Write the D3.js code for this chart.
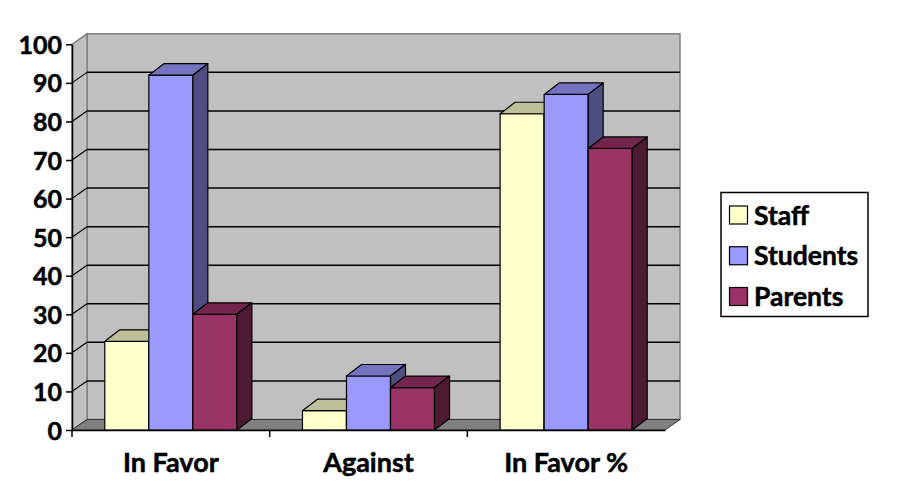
<!DOCTYPE html>
<html>
<head>
<meta charset="utf-8">
<script src="https://cdn.jsdelivr.net/npm/d3@7"></script>
<style>
  html, body { margin: 0; padding: 0; background: #fff; }
  svg { display: block; }
  text { font-family: Lato, "Open Sans", sans-serif; font-weight: bold; fill: #000; stroke: #000; stroke-width: 0.5px; }
</style>
</head>
<body>
<svg id="chart" width="898" height="500"></svg>
<script>
// ---- data ----
const categories = ["In Favor", "Against", "In Favor %"];
const seriesNames = ["Staff", "Students", "Parents"];
const staffValues = [23, 5, 82];
const studentValues = [92, 14, 87];
const parentValues = [30, 11, 73];
const yTickValues = [0, 10, 20, 30, 40, 50, 60, 70, 80, 90, 100];
const seriesColors = ["#FFFFCC", "#9999FF", "#993366"];

const seriesValues = [staffValues, studentValues, parentValues];

// ---- layout ----
const svg = d3.select("#chart");
const plotLeft = 72, plotRight = 665, plotBottom = 430, plotTop = 44.3;
const wdx = 15, wdy = -10.5;   // wall depth offset
const bdx = 15, bdy = -11.5;   // bar depth offset

const y = d3.scaleLinear().domain([0, 100]).range([plotBottom, plotTop]);
const x = d3.scaleBand().domain(categories).range([plotLeft, plotRight]).paddingInner(0).paddingOuter(0);
const xs = d3.scaleBand().domain(seriesNames).range([0, x.bandwidth()]).paddingInner(0).paddingOuter(0.745);

const shade = (c, k) => { const r = d3.rgb(c); return d3.rgb(r.r * k, r.g * k, r.b * k).formatHex(); };
const pts = arr => arr.map(p => p.join(",")).join(" ");

// back wall
svg.append("rect")
  .attr("x", plotLeft + wdx).attr("y", y(100) + wdy)
  .attr("width", plotRight - plotLeft).attr("height", y(0) - y(100))
  .attr("fill", "#C0C0C0").attr("stroke", "#808080").attr("stroke-width", 1.5);

// side wall
svg.append("polygon")
  .attr("points", pts([[plotLeft, y(0)], [plotLeft, y(100)], [plotLeft + wdx, y(100) + wdy], [plotLeft + wdx, y(0) + wdy]]))
  .attr("fill", "#C0C0C0").attr("stroke", "#808080").attr("stroke-width", 1.5);

// gridlines
const grid = svg.append("g");
yTickValues.filter(v => v > 0 && v < 100).forEach(v => {
  grid.append("line")
    .attr("x1", plotLeft + wdx).attr("x2", plotRight + wdx)
    .attr("y1", y(v) + wdy).attr("y2", y(v) + wdy)
    .attr("stroke", "#000").attr("stroke-width", 1.5);
  grid.append("line")
    .attr("x1", plotLeft).attr("x2", plotLeft + wdx)
    .attr("y1", y(v)).attr("y2", y(v) + wdy)
    .attr("stroke", "#000").attr("stroke-width", 1.2);
});

// floor
svg.append("polygon")
  .attr("points", pts([[plotLeft, y(0)], [plotRight, y(0)], [plotRight + wdx, y(0) + wdy], [plotLeft + wdx, y(0) + wdy]]))
  .attr("fill", "#808080").attr("stroke", "#303030").attr("stroke-width", 1);

// bars
const bars = svg.append("g");
categories.forEach((cat, ci) => {
  seriesNames.forEach((s, si) => {
    const v = seriesValues[si][ci];
    const x0 = x(cat) + xs(s), w = xs.bandwidth();
    const t = y(v), b = y(0);
    const col = seriesColors[si];
    const g = bars.append("g").attr("stroke", "#000").attr("stroke-width", 1.2).attr("stroke-linejoin", "round");
    g.append("rect").attr("x", x0).attr("y", t).attr("width", w).attr("height", b - t).attr("fill", col);
    g.append("polygon")
      .attr("points", pts([[x0, t], [x0 + w, t], [x0 + w + bdx, t + bdy], [x0 + bdx, t + bdy]]))
      .attr("fill", shade(col, 0.75));
    g.append("polygon")
      .attr("points", pts([[x0 + w, t], [x0 + w + bdx, t + bdy], [x0 + w + bdx, b + bdy], [x0 + w, b]]))
      .attr("fill", shade(col, 0.5));
  });
});

// y axis
const yAxis = svg.append("g").attr("transform", `translate(${plotLeft},0)`)
  .call(d3.axisLeft(y).tickValues(yTickValues).tickSize(6).tickPadding(4).tickSizeOuter(0));
yAxis.select(".domain").attr("stroke", "#000").attr("stroke-width", 1.5);
yAxis.selectAll(".tick line").attr("stroke", "#000").attr("stroke-width", 1.5);
yAxis.selectAll(".tick text").attr("font-size", 25).attr("font-family", "Lato").attr("font-weight", "bold").attr("dy", "0.36em");

// x axis
const xAxis = svg.append("g").attr("transform", `translate(0,${plotBottom})`)
  .call(d3.axisBottom(x).tickSize(0).tickPadding(0).tickSizeOuter(0));
xAxis.select(".domain").attr("stroke", "#000").attr("stroke-width", 1.5);
xAxis.selectAll(".tick text").attr("font-size", 27).attr("font-family", "Lato").attr("font-weight", "bold")
  .attr("y", 42).attr("dy", 0);
categories.forEach(cat => {
  xAxis.append("line").attr("x1", x(cat)).attr("x2", x(cat)).attr("y1", 0).attr("y2", 7)
    .attr("stroke", "#000").attr("stroke-width", 1.5);
});

// legend
const legend = svg.append("g");
legend.append("rect").attr("x", 721).attr("y", 192.5).attr("width", 147).attr("height", 124)
  .attr("fill", "#fff").attr("stroke", "#000").attr("stroke-width", 1.5);
const legY = d3.scalePoint().domain(seriesNames).range([215, 296.5]);
seriesNames.forEach((s, i) => {
  legend.append("rect").attr("x", 729.5).attr("y", legY(s) - 9).attr("width", 18).attr("height", 18)
    .attr("fill", seriesColors[i]).attr("stroke", "#000").attr("stroke-width", 1.2);
  legend.append("text").attr("x", 754).attr("y", legY(s)).attr("dy", "0.36em")
    .attr("font-size", 26.5).text(s);
});
</script>
</body>
</html>
